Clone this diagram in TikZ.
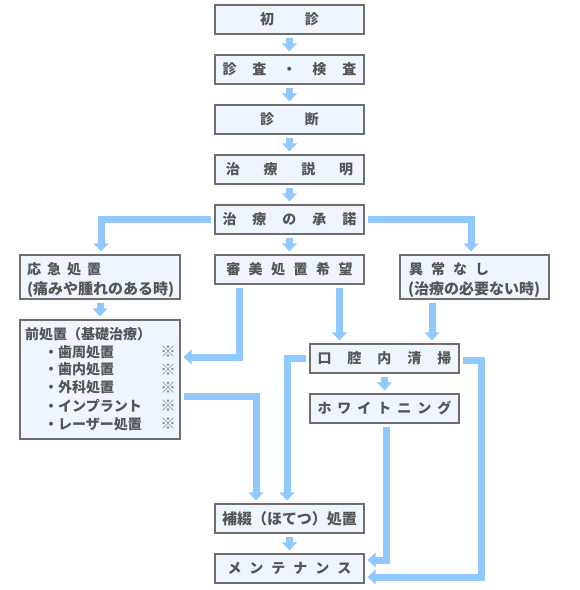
\documentclass[tikz,border=0pt]{standalone}
\usepackage{fontspec}
\newfontfamily\jp{Noto Sans CJK JP}
\usetikzlibrary{arrows.meta}
\definecolor{arrowc}{RGB}{145,200,255}
\definecolor{fillc}{RGB}{238,245,255}
\definecolor{bordc}{RGB}{110,110,110}
\definecolor{textc}{RGB}{85,85,85}
\definecolor{markc}{RGB}{130,130,130}
\tikzset{
  box/.style={draw=bordc, fill=fillc, line width=1.3pt, text=textc, inner sep=0pt,
    font=\jp\bfseries\fontsize{14pt}{16pt}\selectfont, minimum width=149pt, minimum height=29pt},
  txt/.style={text=textc, inner sep=0pt, anchor=west, font=\jp\bfseries\fontsize{14pt}{16pt}\selectfont},
  ptxt/.style={txt, font=\jp\bfseries\fontsize{15pt}{17pt}\selectfont},
  refmark/.style={text=markc, inner sep=0pt, font=\jp\fontsize{15.5pt}{17pt}\selectfont},
  arr/.style={draw=arrowc, line width=7pt, line join=miter, -{Triangle[width=15pt,length=8pt]}}
}
\begin{document}
\begin{tikzpicture}[x=1pt,y=-1pt]
\useasboundingbox[fill=white] (0,0) rectangle (580,590);
% central column
\node[box] (n1) at (289.5,19.5) {初\hspace{31pt}診};
\node[box] (n2) at (289.5,69.5) {診\hspace{16pt}査\hspace{16pt}・\hspace{16pt}検\hspace{16pt}査};
\node[box] (n3) at (289.5,119.5) {診\hspace{31pt}断};
\node[box] (n4) at (289.5,169.5) {治\hspace{23.7pt}療\hspace{23.7pt}説\hspace{23.7pt}明};
\node[box] (n5) at (289.5,219.5) {治\hspace{16pt}療\hspace{16pt}の\hspace{16pt}承\hspace{16pt}諾};
\node[box] (sbi) at (289.5,269.5) {審\hspace{8.5pt}美\hspace{8.5pt}処\hspace{8.5pt}置\hspace{8.5pt}希\hspace{8.5pt}望};
% left
\node[box, minimum width=160pt, minimum height=44pt] (ouq) at (100,277) {};
\node[txt] (ouqt) at (27,269) {応\hspace{6pt}急\hspace{6pt}処\hspace{6pt}置};
\node[ptxt] (ouqp) at (27,289.5) {(痛みや腫れのある時)};
\node[box, minimum width=160pt, minimum height=119pt] (mae) at (100,379.5) {};
\node[txt] (maet) at (25,334) {前処置（基礎治療）};
\node[txt] (i1) at (44,352) {・歯周処置};
\node[txt] (i2) at (44,369.5) {・歯内処置};
\node[txt] (i3) at (44,387.5) {・外科処置};
\node[txt] (i4) at (44,405.5) {・インプラント};
\node[txt] (i5) at (44,424) {・レーザー処置};
\node[refmark] (m1) at (168,352) {※};
\node[refmark] (m2) at (168,369.5) {※};
\node[refmark] (m3) at (168,387.5) {※};
\node[refmark] (m4) at (168,405.5) {※};
\node[refmark] (m5) at (168,424) {※};
% right
\node[box, minimum height=44pt] (ijo) at (474.5,277) {};
\node[txt] (ijot) at (409,269) {異\hspace{8pt}常\hspace{8pt}な\hspace{8pt}し};
\node[ptxt] (ijop) at (408,289.5) {(治療の必要ない時)};
\node[box] (kou) at (384.5,358.5) {口\hspace{16pt}腔\hspace{16pt}内\hspace{16pt}清\hspace{16pt}掃};
\node[box] (wht) at (384.5,408.5) {ホ\hspace{6pt}ワ\hspace{6pt}イ\hspace{6pt}ト\hspace{6pt}ニ\hspace{6pt}ン\hspace{6pt}グ};
% bottom
\node[box, font=\jp\bfseries\fontsize{15pt}{17pt}\selectfont] (hot) at (289.5,518.5) {補綴（ほてつ）処置};
\node[box] (mnt) at (289.5,568.5) {メ\hspace{8pt}ン\hspace{8pt}テ\hspace{8pt}ナ\hspace{8pt}ン\hspace{8pt}ス};
% arrows
\draw[arr] ([yshift=-3pt]n1.south) -- ([yshift=3pt]n2.north);
\draw[arr] ([yshift=-3pt]n2.south) -- ([yshift=3pt]n3.north);
\draw[arr] ([yshift=-3pt]n3.south) -- ([yshift=3pt]n4.north);
\draw[arr] ([yshift=-3pt]n4.south) -- ([yshift=3pt]n5.north);
\draw[arr] ([yshift=-3pt]n5.south) -- ([yshift=3pt]sbi.north);
\draw[arr] ([xshift=-3pt]n5.west) -| ([xshift=1pt,yshift=3pt]ouq.north);
\draw[arr] ([xshift=3pt]n5.east) -| ([xshift=-3.5pt,yshift=3pt]ijo.north);
\draw[arr] ([yshift=-3pt]ouq.south) -- ([yshift=3pt]mae.north);
\draw[arr] ([xshift=-50.5pt,yshift=-3pt]sbi.south) |- ([xshift=3pt,yshift=22.5pt]mae.east);
\draw[arr] ([xshift=50pt,yshift=-3pt]sbi.south) -- ([xshift=-45pt,yshift=3pt]kou.north);
\draw[arr] ([xshift=-42.5pt,yshift=-3pt]ijo.south) -- ([xshift=47.5pt,yshift=3pt]kou.north);
\draw[arr] ([yshift=-3pt]kou.south) -- ([yshift=3pt]wht.north);
\draw[arr] ([xshift=-3pt]kou.west) -| ([xshift=-2.5pt,yshift=3pt]hot.north);
\draw[arr] ([xshift=3pt,yshift=-17pt]mae.east) -| ([xshift=-33.5pt,yshift=3pt]hot.north);
\draw[arr] ([yshift=-3pt]hot.south) -- ([yshift=3pt]mnt.north);
\draw[arr] ([xshift=1.5pt,yshift=-3pt]wht.south) |- ([xshift=3pt,yshift=8.5pt]mnt.east);
\draw[arr] ([xshift=3pt,yshift=-1.5pt]kou.east) -- ++(19,0) |- ([xshift=3pt,yshift=-8.5pt]mnt.east);
\end{tikzpicture}
\end{document}
